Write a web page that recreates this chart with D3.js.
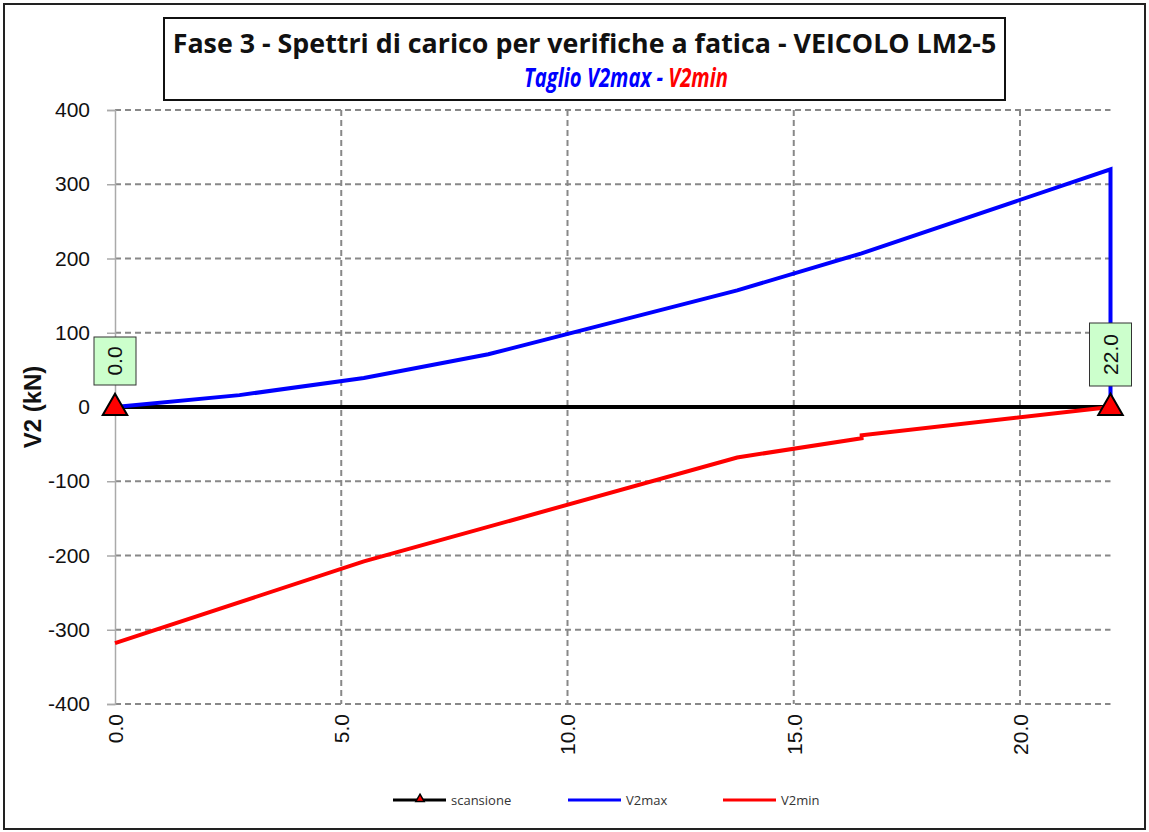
<!DOCTYPE html>
<html>
<head>
<meta charset="utf-8">
<script src="https://cdn.jsdelivr.net/npm/d3@7"></script>
<style>
  html, body { margin: 0; padding: 0; background: #fff; }
  svg { display: block; font-family: "Open Sans", "Liberation Sans", Arial, sans-serif; }
</style>
</head>
<body>
<svg id="chart" width="1149" height="832"></svg>
<script>
// Position along the span (m)
const xMaxPos = [0, 2.75, 5.5, 8.25, 13.75, 16.5, 22, 22];
// V2max envelope (kN)
const v2max = [0, 16, 39, 71, 157, 207, 320, 0];

const xMinPos = [0, 5.5, 13.75, 16.5, 16.5, 22];
// V2min envelope (kN)
const v2min = [-318, -208, -68, -42, -38, 0];

// Scan markers (section positions)
const scanPos = [0, 22];
const scanVal = [0, 0];
const scanLabels = ["0.0", "22.0"];

const xTicks = [0, 5, 10, 15, 20];
const yTicks = [400, 300, 200, 100, 0, -100, -200, -300, -400];

const titleText = "Fase 3 - Spettri di carico per verifiche a fatica - VEICOLO LM2-5";
const subtitleA = "Taglio V2max - ";
const subtitleB = "V2min";
const yTitle = "V2 (kN)";
const legendNames = ["scansione", "V2max", "V2min"];

const svg = d3.select("#chart");

// outer frame
svg.append("rect").attr("x", 4).attr("y", 4).attr("width", 1141).attr("height", 825)
  .attr("fill", "#fff").attr("stroke", "#222").attr("stroke-width", 2);

const x = d3.scaleLinear().domain([0, 22]).range([115, 1110.5]);
const y = d3.scaleLinear().domain([-400, 400]).range([704, 110]);

// grid
const grid = svg.append("g");
grid.selectAll("line.h").data(yTicks).join("line")
  .attr("x1", x(0)).attr("x2", x(22))
  .attr("y1", d => y(d)).attr("y2", d => y(d))
  .attr("stroke", "#888").attr("stroke-width", 2).attr("stroke-dasharray", "6,4");
grid.selectAll("line.v").data(xTicks.filter(d => d > 0)).join("line")
  .attr("x1", d => x(d)).attr("x2", d => x(d))
  .attr("y1", y(400)).attr("y2", y(-400))
  .attr("stroke", "#888").attr("stroke-width", 2).attr("stroke-dasharray", "6,4");

// y axis
const yAxis = d3.axisLeft(y).tickValues(yTicks).tickSize(8).tickFormat(d => String(d));
const gy = svg.append("g").attr("transform", `translate(${x(0)},0)`).call(yAxis);
gy.select(".domain").attr("stroke", "#aaa").attr("stroke-width", 1.5);
gy.selectAll(".tick line").attr("stroke", "#aaa").attr("stroke-width", 1.5);
gy.selectAll(".tick text").attr("font-size", 21).attr("fill", "#111")
  .attr("font-family", "'Liberation Sans', Arial, sans-serif").attr("x", -25);

// x axis labels (rotated)
const xAxis = d3.axisBottom(x).tickValues(xTicks).tickSize(0).tickFormat(d3.format(".1f"));
const gx = svg.append("g").attr("transform", `translate(0,${y(-400)})`).call(xAxis);
gx.select(".domain").remove();
gx.selectAll(".tick text")
  .attr("font-size", 21).attr("fill", "#111")
  .attr("font-family", "'Liberation Sans', Arial, sans-serif")
  .attr("transform", "rotate(-90)")
  .attr("text-anchor", "end")
  .attr("x", -10).attr("y", 0).attr("dy", "0.35em");

// y axis title
svg.append("text")
  .attr("transform", `translate(41,${y(0)}) rotate(-90)`)
  .attr("text-anchor", "middle")
  .attr("font-size", 24).attr("font-weight", "bold").attr("fill", "#111")
  .attr("font-family", "'Liberation Sans', Arial, sans-serif")
  .text(yTitle);

const line = d3.line().x(d => x(d[0])).y(d => y(d[1]));

// scan line
svg.append("path").datum(d3.zip(scanPos, scanVal)).attr("d", line)
  .attr("fill", "none").attr("stroke", "#000").attr("stroke-width", 4);

// envelopes
svg.append("path").datum(d3.zip(xMaxPos, v2max)).attr("d", line)
  .attr("fill", "none").attr("stroke", "#0000ff").attr("stroke-width", 4)
  .attr("stroke-linejoin", "miter");
svg.append("path").datum(d3.zip(xMinPos, v2min)).attr("d", line)
  .attr("fill", "none").attr("stroke", "#ff0000").attr("stroke-width", 4);

// scan markers
const tri = d3.symbol().type(d3.symbolTriangle).size(260);
svg.selectAll("path.mk").data(d3.zip(scanPos, scanVal)).join("path")
  .attr("d", tri)
  .attr("transform", d => `translate(${x(d[0])},${y(d[1]) + 1})`)
  .attr("fill", "#ff0000").attr("stroke", "#000").attr("stroke-width", 2);

// scan labels
const lab = svg.selectAll("g.lab").data(d3.zip(scanPos, scanLabels)).join("g")
  .attr("transform", d => `translate(${x(d[0])},${y(0) - 47})`);
lab.append("rect")
  .attr("x", -21).attr("y", d => d[1].length > 3 ? -37 : -23)
  .attr("width", 42).attr("height", d => d[1].length > 3 ? 63 : 48)
  .attr("fill", "#ccffcc").attr("stroke", "#333").attr("stroke-width", 1);
lab.append("text")
  .attr("transform", d => `translate(0,${d[1].length > 3 ? -5.5 : 1}) rotate(-90)`)
  .attr("text-anchor", "middle").attr("dy", "0.35em")
  .attr("font-size", 21).attr("fill", "#111")
  .attr("font-family", "'Liberation Sans', Arial, sans-serif")
  .text(d => d[1]);

// title box
svg.append("rect").attr("x", 164).attr("y", 18).attr("width", 841).attr("height", 82)
  .attr("fill", "#fff").attr("stroke", "#111").attr("stroke-width", 2);

// condensed text: squeeze horizontally to a target width
function fitText(g, width) {
  const t = g.select("text");
  const w = t.node().getComputedTextLength();
  t.attr("transform", `scale(${width / w},1)`);
}
const gTitle = svg.append("g").attr("transform", "translate(584.5,53)");
gTitle.append("text").attr("text-anchor", "middle")
  .attr("font-size", 27).attr("font-weight", "bold").attr("fill", "#111")
  .text(titleText);
fitText(gTitle, 824);

const gSub = svg.append("g").attr("transform", "translate(626,87)");
const sub = gSub.append("text").attr("text-anchor", "middle")
  .attr("font-size", 26).attr("font-weight", "bold").attr("font-style", "italic");
sub.append("tspan").attr("fill", "#0000ff").text(subtitleA);
sub.append("tspan").attr("fill", "#ff0000").text(subtitleB);
fitText(gSub, 204);

// legend
const legColors = ["#000", "#0000ff", "#ff0000"];
const legX = [393, 568, 723];
const leg = svg.selectAll("g.leg").data(legendNames).join("g")
  .attr("transform", (d, i) => `translate(${legX[i]},800)`);
leg.append("line").attr("x1", 0).attr("x2", 53).attr("y1", 0).attr("y2", 0)
  .attr("stroke", (d, i) => legColors[i]).attr("stroke-width", 3);
leg.filter((d, i) => i === 0).append("path")
  .attr("d", d3.symbol().type(d3.symbolTriangle).size(30))
  .attr("transform", "translate(27,-1)")
  .attr("fill", "#ff0000").attr("stroke", "#000").attr("stroke-width", 1.5);
leg.append("text").attr("x", 58).attr("y", 0).attr("dy", "0.35em")
  .attr("font-size", 13).attr("fill", "#333")
  .text(d => d);
</script>
</body>
</html>
